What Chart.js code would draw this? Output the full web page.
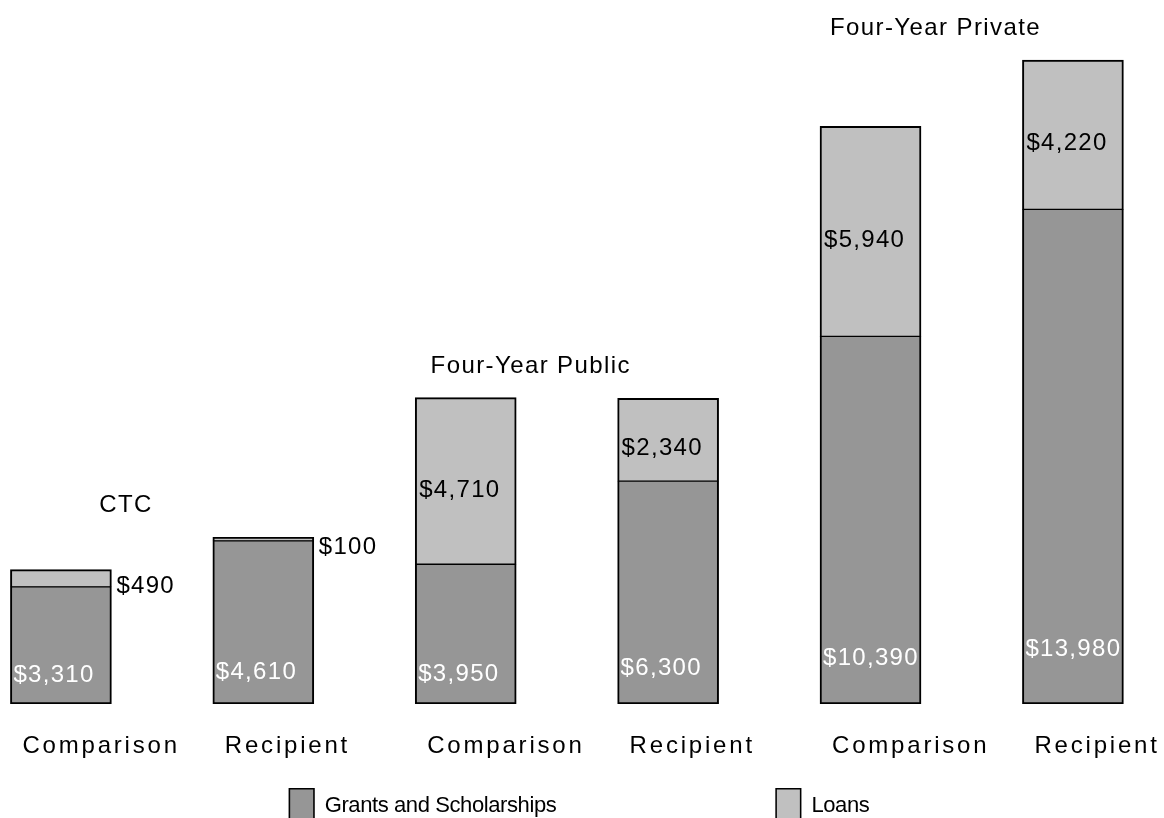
<!DOCTYPE html>
<html>
<head>
<meta charset="utf-8">
<title>Aid per student: grants and loans</title>
<script src="https://cdn.jsdelivr.net/npm/chart.js@4/dist/chart.umd.min.js"></script>
<style>
  html, body { margin: 0; padding: 0; background: #ffffff; overflow: hidden; }
  #wrap { position: relative; width: 1164px; height: 818px; }
  canvas { display: block; }
</style>
</head>
<body>
<div id="wrap"><canvas id="aid" width="1164" height="818"></canvas></div>
<script>
// Bar labels, one per bar, and the three institution groups (two bars each)
const categories = ['Comparison', 'Recipient', 'Comparison', 'Recipient', 'Comparison', 'Recipient'];
const groups = ['CTC', 'Four-Year Public', 'Four-Year Private'];
const seriesNames = ['Grants and Scholarships', 'Loans'];

// Average aid amounts in dollars
const grants = [3310, 4610, 3950, 6300, 10390, 13980];
const loans = [490, 100, 4710, 2340, 5940, 4220];

const GRANT_FILL = '#969696';
const LOAN_FILL = '#c0c0c0';
const EDGE = '#000000';
const FONT = '"Liberation Sans", Arial, sans-serif';

const money = v => '$' + v.toLocaleString('en-US');

function drawText(ctx, text, x, y, size, color, spacing, align) {
  ctx.save();
  ctx.font = size + 'px ' + FONT;
  ctx.fillStyle = color;
  ctx.textAlign = align || 'left';
  ctx.textBaseline = 'alphabetic';
  ctx.letterSpacing = spacing + 'px';
  ctx.fillText(text, x, y);
  ctx.restore();
}

// Value labels, bar captions, group titles and the legend
const annotations = {
  id: 'annotations',
  afterDatasetsDraw(chart) {
    const ctx = chart.ctx;
    const grantBars = chart.getDatasetMeta(0).data;
    const loanBars = chart.getDatasetMeta(1).data;

    grantBars.forEach((bar, i) => {
      const left = bar.x - bar.width / 2;
      const h = bar.base - bar.y;
      const cy = bar.base - (22 + 0.07 * h);
      drawText(ctx, money(grants[i]), left + 3, cy + 8.6, 24, '#ffffff', 1.3);

      // caption under each bar
      drawText(ctx, categories[i], left + 12, bar.base + 49, 24, '#000000', 2.8);
    });

    loanBars.forEach((bar, i) => {
      const left = bar.x - bar.width / 2;
      const right = bar.x + bar.width / 2;
      const h = bar.base - bar.y;
      const mid = (bar.y + bar.base) / 2;
      if (h < 30) {
        drawText(ctx, money(loans[i]), right + 5, mid + 6 + 8.6, 24, '#000000', 1.3);
      } else {
        drawText(ctx, money(loans[i]), left + 4, mid + 7 + 8.6, 24, '#000000', 1.3);
      }
    });

    // group titles above each pair of bars
    groups.forEach((g, k) => {
      const a = loanBars[2 * k];
      const b = loanBars[2 * k + 1];
      const top = Math.min(a.y, b.y);
      drawText(ctx, g, a.x + 65, top - 25, 24, '#000000', 1.4, 'center');
    });
  },
  afterDraw(chart) {
    const ctx = chart.ctx;
    const fills = [GRANT_FILL, LOAN_FILL];
    const box = 26, gapText = 10, gapItems = 219, size = 22, spacing = -0.4;
    ctx.save();
    ctx.font = size + 'px ' + FONT;
    ctx.letterSpacing = spacing + 'px';
    const widths = seriesNames.map(n => ctx.measureText(n).width);
    ctx.restore();
    const total = widths.reduce((s, w) => s + box + gapText + w, 0) + gapItems;
    let x = (chart.width - total) / 2 - 3;
    const boxTop = chart.height - 30;
    seriesNames.forEach((name, k) => {
      ctx.save();
      ctx.fillStyle = fills[k];
      ctx.strokeStyle = EDGE;
      ctx.lineWidth = 1.5;
      ctx.fillRect(x, boxTop, box, 34);
      ctx.strokeRect(x + 0.75, boxTop + 0.75, box - 1.5, 34);
      ctx.restore();
      drawText(ctx, name, x + box + gapText, chart.height - 6, size, '#000000', spacing);
      x += box + gapText + widths[k] + gapItems;
    });
  }
};

const toPoints = arr => arr.map((v, i) => ({ x: i, y: v }));

new Chart(document.getElementById('aid'), {
  type: 'bar',
  data: {
    datasets: [
      {
        label: seriesNames[0],
        data: toPoints(grants),
        backgroundColor: GRANT_FILL,
        borderColor: EDGE,
        borderWidth: { top: 1, left: 2, right: 2, bottom: 2 },
        borderSkipped: false,
        barThickness: 101
      },
      {
        label: seriesNames[1],
        data: toPoints(loans),
        backgroundColor: LOAN_FILL,
        borderColor: EDGE,
        borderWidth: { top: 2, left: 2, right: 2, bottom: 1 },
        borderSkipped: false,
        barThickness: 101
      }
    ]
  },
  options: {
    responsive: false,
    maintainAspectRatio: false,
    animation: false,
    devicePixelRatio: 1,
    layout: { padding: { top: 0, left: 0, right: 0, bottom: 114 } },
    plugins: {
      legend: { display: false },
      tooltip: { enabled: false },
      title: { display: false }
    },
    scales: {
      x: {
        type: 'linear',
        stacked: true,
        offset: false,
        bounds: 'data',
        min: -0.301,
        max: 5.45,
        display: false
      },
      y: {
        stacked: true,
        min: 0,
        max: 19900,
        display: false
      }
    }
  },
  plugins: [annotations]
});
</script>
</body>
</html>
